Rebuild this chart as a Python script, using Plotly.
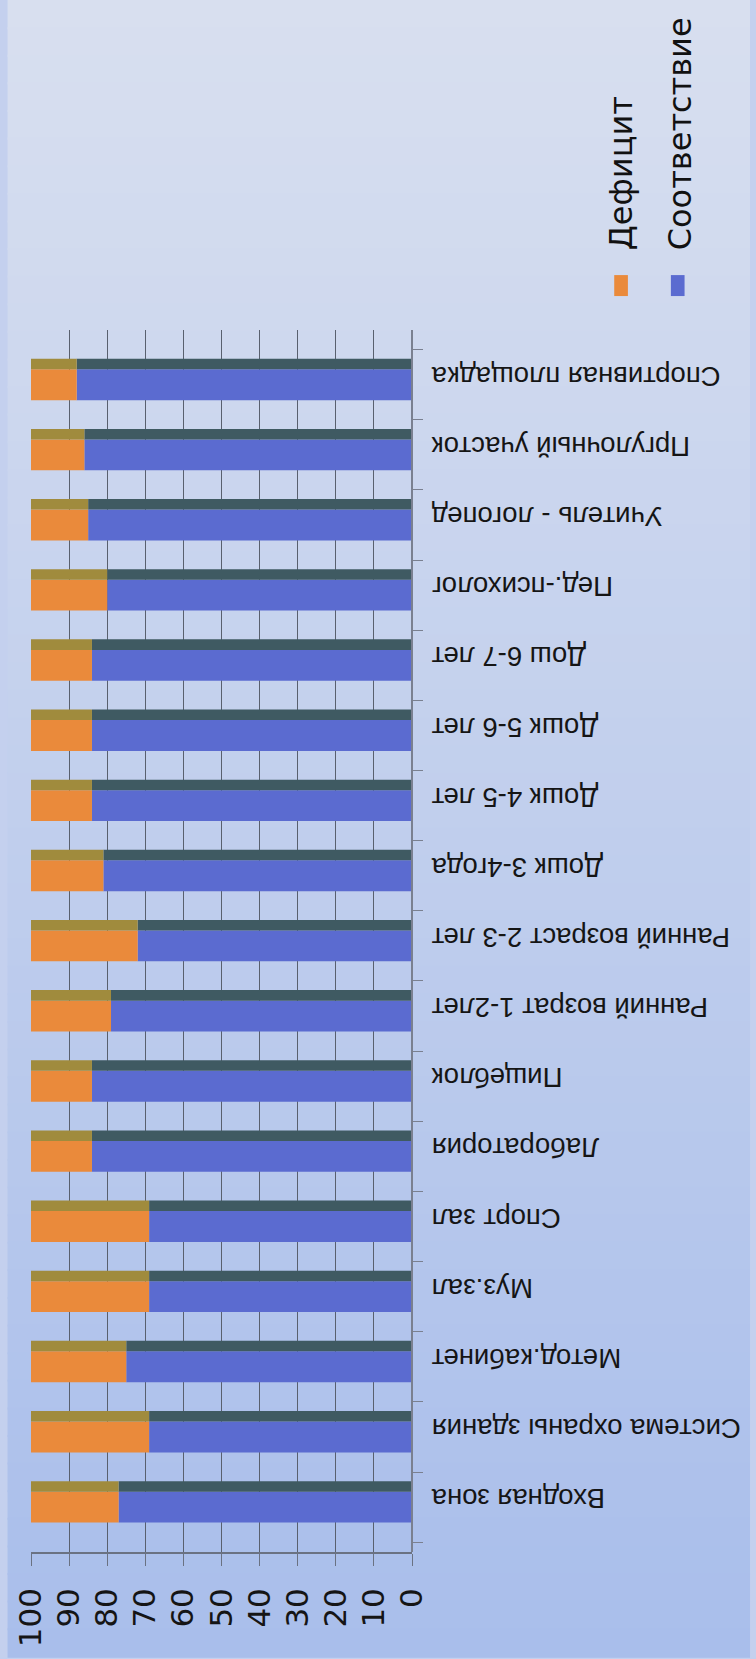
import plotly.graph_objects as go

# ---- data ----
categories = [
    "Входная зона",
    "Система охраны здания",
    "Метод.кабинет",
    "Муз.зал",
    "Спорт зал",
    "Лаборатория",
    "Пищеблок",
    "Ранний возрат 1-2лет",
    "Ранний возраст 2-3 лет",
    "Дошк 3-4года",
    "Дошк 4-5 лет",
    "Дошк 5-6 лет",
    "Дош 6-7 лет",
    "Пед.-психолог",
    "Учитель - логопед",
    "Пргулочный участок",
    "Спортивная площадка",
]
sootvetstvie = [77, 69, 75, 69, 69, 84, 84, 79, 72, 81, 84, 84, 84, 80, 85, 86, 88]
deficit = [23, 31, 25, 31, 31, 16, 16, 21, 28, 19, 16, 16, 16, 20, 15, 14, 12]
value_ticks = [0, 10, 20, 30, 40, 50, 60, 70, 80, 90, 100]
series_names = ["Дефицит", "Соответствие"]

# ---- style ----
W, H = 756, 1659
L, R, T, B = 22, 344, 330, 105
PW, PH = W - L - R, H - T - B

def px_x(px):
    return (px - L) / PW

def px_y(py):
    return (H - B - py) / PH

BLUE = "#5b6bd0"
BLUE_TOP = "#3f5a62"
ORANGE = "#ea8a3b"
ORANGE_TOP = "#a08b3d"
GRID = "#59606e"

FRONT_W, FRONT_OFF = 0.44, -0.22
TOP_W, TOP_OFF = 0.15, 0.22

fig = go.Figure()

# front faces
fig.add_trace(go.Bar(
    y=categories, x=sootvetstvie, base=[0] * len(categories), orientation="h",
    marker=dict(color=BLUE, line=dict(width=0)), width=FRONT_W, offset=FRONT_OFF,
    name=series_names[1], showlegend=False,
))
fig.add_trace(go.Bar(
    y=categories, x=deficit, base=sootvetstvie, orientation="h",
    marker=dict(color=ORANGE, line=dict(width=0)), width=FRONT_W, offset=FRONT_OFF,
    name=series_names[0], showlegend=False,
))
# top faces (3-D depth strip)
fig.add_trace(go.Bar(
    y=categories, x=sootvetstvie, base=[0] * len(categories), orientation="h",
    marker=dict(color=BLUE_TOP, line=dict(width=0)), width=TOP_W, offset=TOP_OFF,
    name=series_names[1], showlegend=False, hoverinfo="skip",
))
fig.add_trace(go.Bar(
    y=categories, x=deficit, base=sootvetstvie, orientation="h",
    marker=dict(color=ORANGE_TOP, line=dict(width=0)), width=TOP_W, offset=TOP_OFF,
    name=series_names[0], showlegend=False, hoverinfo="skip",
))

# background gradient bands
shapes = []
top_c = (0xd8, 0xdf, 0xef)
bot_c = (0xa9, 0xbe, 0xeb)
n = 60
for k in range(n):
    t = k / (n - 1)
    c = tuple(round(top_c[j] + (bot_c[j] - top_c[j]) * t) for j in range(3))
    y0 = k * H / n - 1
    y1 = (k + 1) * H / n + 1
    shapes.append(dict(
        type="rect", xref="paper", yref="paper", layer="below",
        x0=px_x(-2), x1=px_x(W + 2), y0=px_y(y1), y1=px_y(y0),
        fillcolor="rgb(%d,%d,%d)" % c, line=dict(width=0),
    ))

# legend squares
shapes.append(dict(type="rect", xref="paper", yref="paper",
                   x0=px_x(619), x1=px_x(633), y0=px_y(296), y1=px_y(275),
                   fillcolor=ORANGE, line=dict(width=0)))
shapes.append(dict(type="rect", xref="paper", yref="paper",
                   x0=px_x(677), x1=px_x(691), y0=px_y(296), y1=px_y(275),
                   fillcolor=BLUE, line=dict(width=0)))

annotations = [
    dict(text=series_names[0], xref="paper", yref="paper",
         x=px_x(626), y=px_y(252), xanchor="center", yanchor="bottom",
         textangle=-90, showarrow=False,
         font=dict(family="DejaVu Sans", size=32, color="#111111")),
    dict(text=series_names[1], xref="paper", yref="paper",
         x=px_x(686), y=px_y(252), xanchor="center", yanchor="bottom",
         textangle=-90, showarrow=False,
         font=dict(family="DejaVu Sans", size=32, color="#111111")),
]

fig.update_layout(
    width=W, height=H,
    margin=dict(l=L, r=R, t=T, b=B, pad=0),
    barmode="overlay",
    paper_bgcolor="#c4d0ee",
    plot_bgcolor="rgba(0,0,0,0)",
    showlegend=False,
    shapes=shapes,
    annotations=annotations,
    xaxis=dict(
        range=[100, 0], tickvals=value_ticks, ticktext=[str(v) for v in value_ticks],
        tickangle=-90, side="bottom",
        showgrid=True, gridcolor=GRID, gridwidth=1.2,
        showline=True, linecolor="#6a7282", linewidth=1.5,
        ticks="outside", ticklen=12, tickcolor="#6a7282", tickwidth=1.2,
        ticklabelstandoff=10,
        tickfont=dict(family="DejaVu Sans", size=31, color="#151515"),
        zeroline=False, fixedrange=True,
    ),
    yaxis=dict(
        type="category", categoryorder="array", categoryarray=categories,
        range=[-0.64, 16.78], side="left", anchor="free", position=1.0,
        tickangle=180,
        showgrid=False, zeroline=False,
        showline=True, linecolor="#7a8090", linewidth=1.5,
        ticks="inside", tickson="boundaries", ticklen=10, tickcolor="#7a8090",
        ticklabelstandoff=-26,
        tickfont=dict(family="Liberation Sans", size=27.5, color="#151515"),
        fixedrange=True,
    ),
)

fig.write_html(
    "out.html",
    config={"displayModeBar": False},
    post_script="document.body.style.margin='0';document.body.style.overflow='hidden';",
)
